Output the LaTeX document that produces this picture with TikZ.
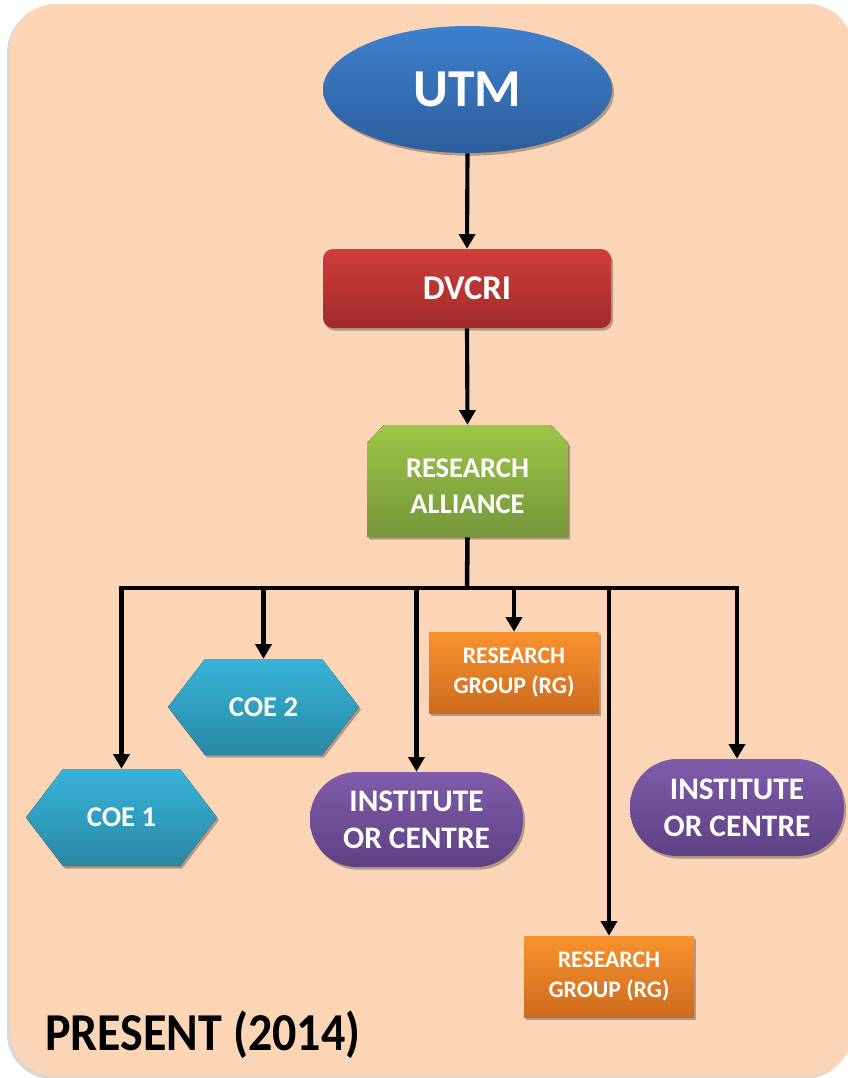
\documentclass[tikz,border=0pt]{standalone}
\usepackage{fontspec}
\setmainfont{Carlito}
\usetikzlibrary{arrows.meta,shadows,shapes.geometric}
\definecolor{bgpeach}{HTML}{FBD5B5}
\definecolor{blueT}{HTML}{3E80CD}\definecolor{blueB}{HTML}{2D5E9C}
\definecolor{redT}{HTML}{CE3E3B}\definecolor{redB}{HTML}{A02B2A}
\definecolor{greenT}{HTML}{9DC647}\definecolor{greenB}{HTML}{76963A}
\definecolor{cyanT}{HTML}{37B4D8}\definecolor{cyanB}{HTML}{2A88A4}
\definecolor{orangeT}{HTML}{F9922E}\definecolor{orangeB}{HTML}{CD6B1E}
\definecolor{purpleT}{HTML}{7F5CAA}\definecolor{purpleB}{HTML}{5E4183}
\begin{document}
\begin{tikzpicture}[x=0.75pt,y=-0.75pt,
  lbl/.style={text=white, align=center, inner sep=0pt},
  shad/.style={drop shadow={shadow xshift=1.5pt, shadow yshift=-2pt, opacity=0.28, fill=black}},
  arr/.style={line width=3.1pt, -{Triangle[length=11pt,width=12pt]}},
  busline/.style={line width=3.1pt, {Triangle[length=11pt,width=12pt]}-{Triangle[length=11pt,width=12pt]}},
  wire/.style={line width=3.4pt}]
\useasboundingbox (0,0) rectangle (848,1078);
% background panel
\fill[black!30, opacity=0.5, rounded corners=34pt] (7,7) rectangle (850,1079);
\fill[bgpeach, rounded corners=34pt] (10,4) rectangle (853,1076);

% UTM
\node[ellipse, shad, top color=blueT, bottom color=blueB, lbl, minimum width=216.75pt, minimum height=95.25pt,
  font=\bfseries\fontsize{40}{48}\selectfont] (utm) at (467.5,89.5) {\raisebox{-1.5pt}{UTM}};
% DVCRI
\node[rectangle, rounded corners=7.5pt, shad, top color=redT, bottom color=redB, lbl, minimum width=216pt, minimum height=59.25pt,
  font=\bfseries\fontsize{26}{31}\selectfont] (dvcri) at (467,288.5) {\raisebox{-2pt}{DVCRI}};
% RESEARCH ALLIANCE (snipped top corners)
\fill[shad, top color=greenT, bottom color=greenB] (367,537) -- (367,443) -- (384,425) -- (551,425) -- (568,443) -- (568,537) -- cycle;
\node[minimum width=150.75pt, minimum height=84pt, inner sep=0pt] (ra) at (467.5,481) {};
\node[lbl, font=\bfseries\fontsize{21.4}{27}\selectfont] (ratext) at (467.5,486.5) {RESEARCH\\ALLIANCE};
% COE 1 and COE 2 hexagons
\fill[shad, top color=cyanT, bottom color=cyanB] (26,817.5) -- (63,769) -- (180,769) -- (217,817.5) -- (180,866) -- (63,866) -- cycle;
\node[lbl, minimum width=143.25pt, minimum height=72.75pt, font=\bfseries\fontsize{21.5}{25}\selectfont] (coe1) at (121.5,817.5) {\raisebox{-1.5pt}{COE 1}};
\fill[shad, top color=cyanT, bottom color=cyanB] (168,707) -- (205,659) -- (322,659) -- (359,707) -- (322,755) -- (205,755) -- cycle;
\node[lbl, minimum width=143.25pt, minimum height=72pt, font=\bfseries\fontsize{21.5}{25}\selectfont] (coe2) at (263.5,707) {\raisebox{-1.5pt}{COE 2}};
% Institutes
\node[rectangle, rounded corners=35pt, shad, top color=purpleT, bottom color=purpleB, lbl, minimum width=159.75pt, minimum height=71.25pt,
  font=\bfseries\fontsize{23.5}{27.75}\selectfont] (inst1) at (416.5,819.5) {INSTITUTE\\OR CENTRE};
\node[rectangle, rounded corners=35.5pt, shad, top color=purpleT, bottom color=purpleB, lbl, minimum width=160.5pt, minimum height=72.75pt,
  font=\bfseries\fontsize{23.5}{27.75}\selectfont] (inst2) at (737,807.5) {INSTITUTE\\OR CENTRE};
% Research groups
\node[rectangle, shad, top color=orangeT, bottom color=orangeB, lbl, minimum width=127.5pt, minimum height=60.75pt,
  font=\bfseries\fontsize{17.8}{22}\selectfont] (rg1) at (514,672.5) {RESEARCH\\GROUP (RG)};
\node[rectangle, shad, top color=orangeT, bottom color=orangeB, lbl, minimum width=127.5pt, minimum height=60.75pt,
  font=\bfseries\fontsize{17.8}{22}\selectfont] (rg2) at (609,976.5) {RESEARCH\\GROUP (RG)};

% caption
\node[anchor=base west, inner sep=0pt, font=\bfseries\fontsize{40}{48}\selectfont] (present) at (45,1050) {\scalebox{0.9}[1]{PRESENT (2014)}};

% connectors
\coordinate (bus) at (467,588);
\draw[arr] (utm.south) -- (dvcri.north);
\draw[arr] (dvcri.south) -- (ra.north);
\draw[wire] (ra.south) -- (bus);
\draw[busline] (coe1.north) |- (bus) -| (inst2.north);
\draw[arr] (coe2.north |- bus) -- (coe2.north);
\draw[arr] (inst1.north |- bus) -- (inst1.north);
\draw[arr] (rg1.north |- bus) -- (rg1.north);
\draw[arr] (rg2.north |- bus) -- (rg2.north);
\end{tikzpicture}
\end{document}
